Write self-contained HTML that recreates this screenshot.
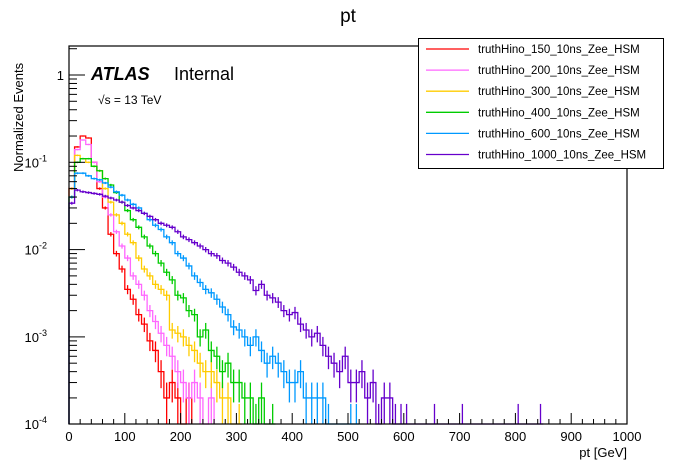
<!DOCTYPE html>
<html><head><meta charset="utf-8"><style>
body{margin:0;background:#fff}
svg{display:block;font-family:"Liberation Sans",Arial,sans-serif}
</style></head><body>
<svg id="c" width="696" height="472" viewBox="0 0 696 472">
<rect width="696" height="472" fill="#fff"/>
<text x="348" y="22" font-size="19" text-anchor="middle">pt</text>
<g id="plot"></g>
<g id="axes"></g>
<text x="627" y="457" font-size="13" text-anchor="end">pt [GeV]</text>
<text transform="translate(23,172) rotate(-90)" font-size="13">Normalized Events</text>
<text x="91" y="80" font-size="18" font-weight="bold" font-style="italic">ATLAS</text>
<text x="174" y="80" font-size="18">Internal</text>
<text x="98" y="104" font-size="12">√s = 13 TeV</text>
<g id="legend">
<rect x="418.5" y="38.5" width="245" height="130" fill="#fff" stroke="#000" stroke-width="1"/>
</g>
</svg>
<script>
const xTicks=[0,100,200,300,400,500,600,700,800,900,1000];
const yDecades=[0,-1,-2,-3,-4];
const names=["truthHino_150_10ns_Zee_HSM","truthHino_200_10ns_Zee_HSM","truthHino_300_10ns_Zee_HSM","truthHino_400_10ns_Zee_HSM","truthHino_600_10ns_Zee_HSM","truthHino_1000_10ns_Zee_HSM"];
const colors=["#ff0000","#ff66ff","#ffcc00","#00cc00","#0099ff","#6600cc"];
const binWidth=10;
const s150=[0.05,0.15,0.2,0.19,0.1,0.05,0.03,0.015,0.009,0.006,0.0035,0.0027,0.0018,0.0014,0.0009,0.0007,0.0004,0.0002,0.0003,0.0002,0,0.0002];
const s200=[0.05,0.14,0.18,0.16,0.1,0.06,0.04,0.025,0.016,0.011,0.008,0.005,0.004,0.003,0.002,0.0015,0.0011,0.0008,0.0006,0.0004,0.0003,0.0002,0.0003,0.0002,0,0.0002];
const s300=[0.05,0.12,0.11,0.1,0.09,0.08,0.05,0.035,0.025,0.02,0.015,0.012,0.008,0.006,0.005,0.004,0.0035,0.003,0.0012,0.0011,0.001,0.0008,0.0007,0.0005,0.0004,0.0004,0.0003,0.0002,0.0002,0,0.0001];
const s400=[0.04,0.1,0.11,0.11,0.09,0.08,0.065,0.055,0.045,0.035,0.028,0.022,0.018,0.014,0.011,0.009,0.007,0.0055,0.0045,0.003,0.0028,0.002,0.0018,0.001,0.0012,0.0007,0.0006,0.0004,0.0005,0.0003,0.0003,0.0002,0.0002,0.0001,0.0002,0,0.0001];
const s600=[0.04,0.075,0.075,0.07,0.065,0.063,0.058,0.052,0.046,0.042,0.037,0.033,0.03,0.026,0.022,0.019,0.017,0.014,0.012,0.009,0.008,0.0065,0.005,0.0042,0.0035,0.0032,0.0027,0.0022,0.0018,0.0013,0.0012,0.001,0.0008,0.001,0.0007,0.0005,0.0006,0.0005,0.0004,0.0003,0.0003,0.0004,0.0002,0.0002,0.0002,0.0002,0.0001,0,0,0,0.0001,0.0001];
const s1000=[0.034,0.048,0.046,0.045,0.044,0.043,0.041,0.039,0.037,0.035,0.032,0.03,0.028,0.026,0.024,0.022,0.02,0.019,0.018,0.016,0.014,0.013,0.012,0.011,0.01,0.009,0.0085,0.0075,0.007,0.0063,0.0055,0.005,0.0045,0.0034,0.004,0.003,0.0028,0.0025,0.002,0.0018,0.0019,0.0014,0.0012,0.001,0.0011,0.0008,0.0006,0.0005,0.0004,0.0006,0.0003,0.0003,0.0004,0.0002,0.0003,0.0001,0.0002,0.0002,0.0001,0.0001,0.0001,0,0,0,0,0.0001,0,0,0,0,0.0001,0,0,0,0,0,0,0,0,0,0.0001,0,0,0,0.0001];
const series=[s150,s200,s300,s400,s600,s1000];

const X0=69,X1=627,YT=46,YB=424;
const yOne=75,dec=87.3;
function xs(v){return X0+(v/1000)*(X1-X0);}
function ys(v){if(v<=1e-4)return YB;return Math.max(YT,Math.min(YB,yOne-Math.log10(v)*dec));}
const NS="http://www.w3.org/2000/svg";
function mk(t,a,p){const e=document.createElementNS(NS,t);for(const k in a)e.setAttribute(k,a[k]);p.appendChild(e);return e;}
const plot=document.getElementById('plot'),axes=document.getElementById('axes'),leg=document.getElementById('legend');

series.forEach((arr,si)=>{
  const g=mk('g',{},plot);
  
  
  let d='M'+xs(0)+' '+YB;
  arr.forEach((v,i)=>{d+=' L'+xs(i*binWidth)+' '+ys(v)+' L'+xs((i+1)*binWidth)+' '+ys(v);});
  d+=' L'+xs(arr.length*binWidth)+' '+YB;
  const p=mk('path',{d:d,fill:'none',stroke:colors[si],'stroke-width':1.3},g);
  
  
  arr.forEach((v,i)=>{
    if(v<=0)return;
    const err=Math.sqrt(v/20000);
    const xc=xs((i+0.5)*binWidth);
    const l=mk('line',{x1:xc,x2:xc,y1:ys(v+err),y2:ys(v-err),stroke:colors[si],'stroke-width':1.3},g);
    
    
  });
});

mk('rect',{x:X0,y:YT,width:X1-X0,height:YB-YT,fill:'none',stroke:'#000','stroke-width':1.2},axes);
for(let v=0;v<=1000;v+=20){const big=v%100===0;mk('line',{x1:xs(v),x2:xs(v),y1:YB,y2:YB-(big?11:5),stroke:'#000','stroke-width':1},axes);}
xTicks.forEach(v=>{const t=mk('text',{x:xs(v),y:441,'font-size':13,'text-anchor':'middle'},axes);t.textContent=v;

});
for(let e=-4;e<=0;e++){for(let m=1;m<10;m++){const v=m*Math.pow(10,e);const y=yOne-Math.log10(v)*dec;if(y<YT||y>YB)continue;mk('line',{x1:X0,x2:X0+(m===1?16:8),y1:y,y2:y,stroke:'#000','stroke-width':1},axes);}}
yDecades.forEach(e=>{const y=yOne-e*dec;const t=mk('text',{x:e===0?64:47,y:y+5,'font-size':13,'text-anchor':'end'},axes);


if(e===0){t.textContent='1';}else{t.textContent='10';const sp=mk('tspan',{dy:-6,'font-size':9},t);sp.textContent=String(e);}});
names.forEach((n,i)=>{const y=49+i*21.1;
const l=mk('line',{x1:426,x2:469,y1:y,y2:y,stroke:colors[i],'stroke-width':1.3},leg);


const t=mk('text',{x:478,y:y+4,'font-size':11.5},leg);t.textContent=n;

});
</script>
</body></html>
